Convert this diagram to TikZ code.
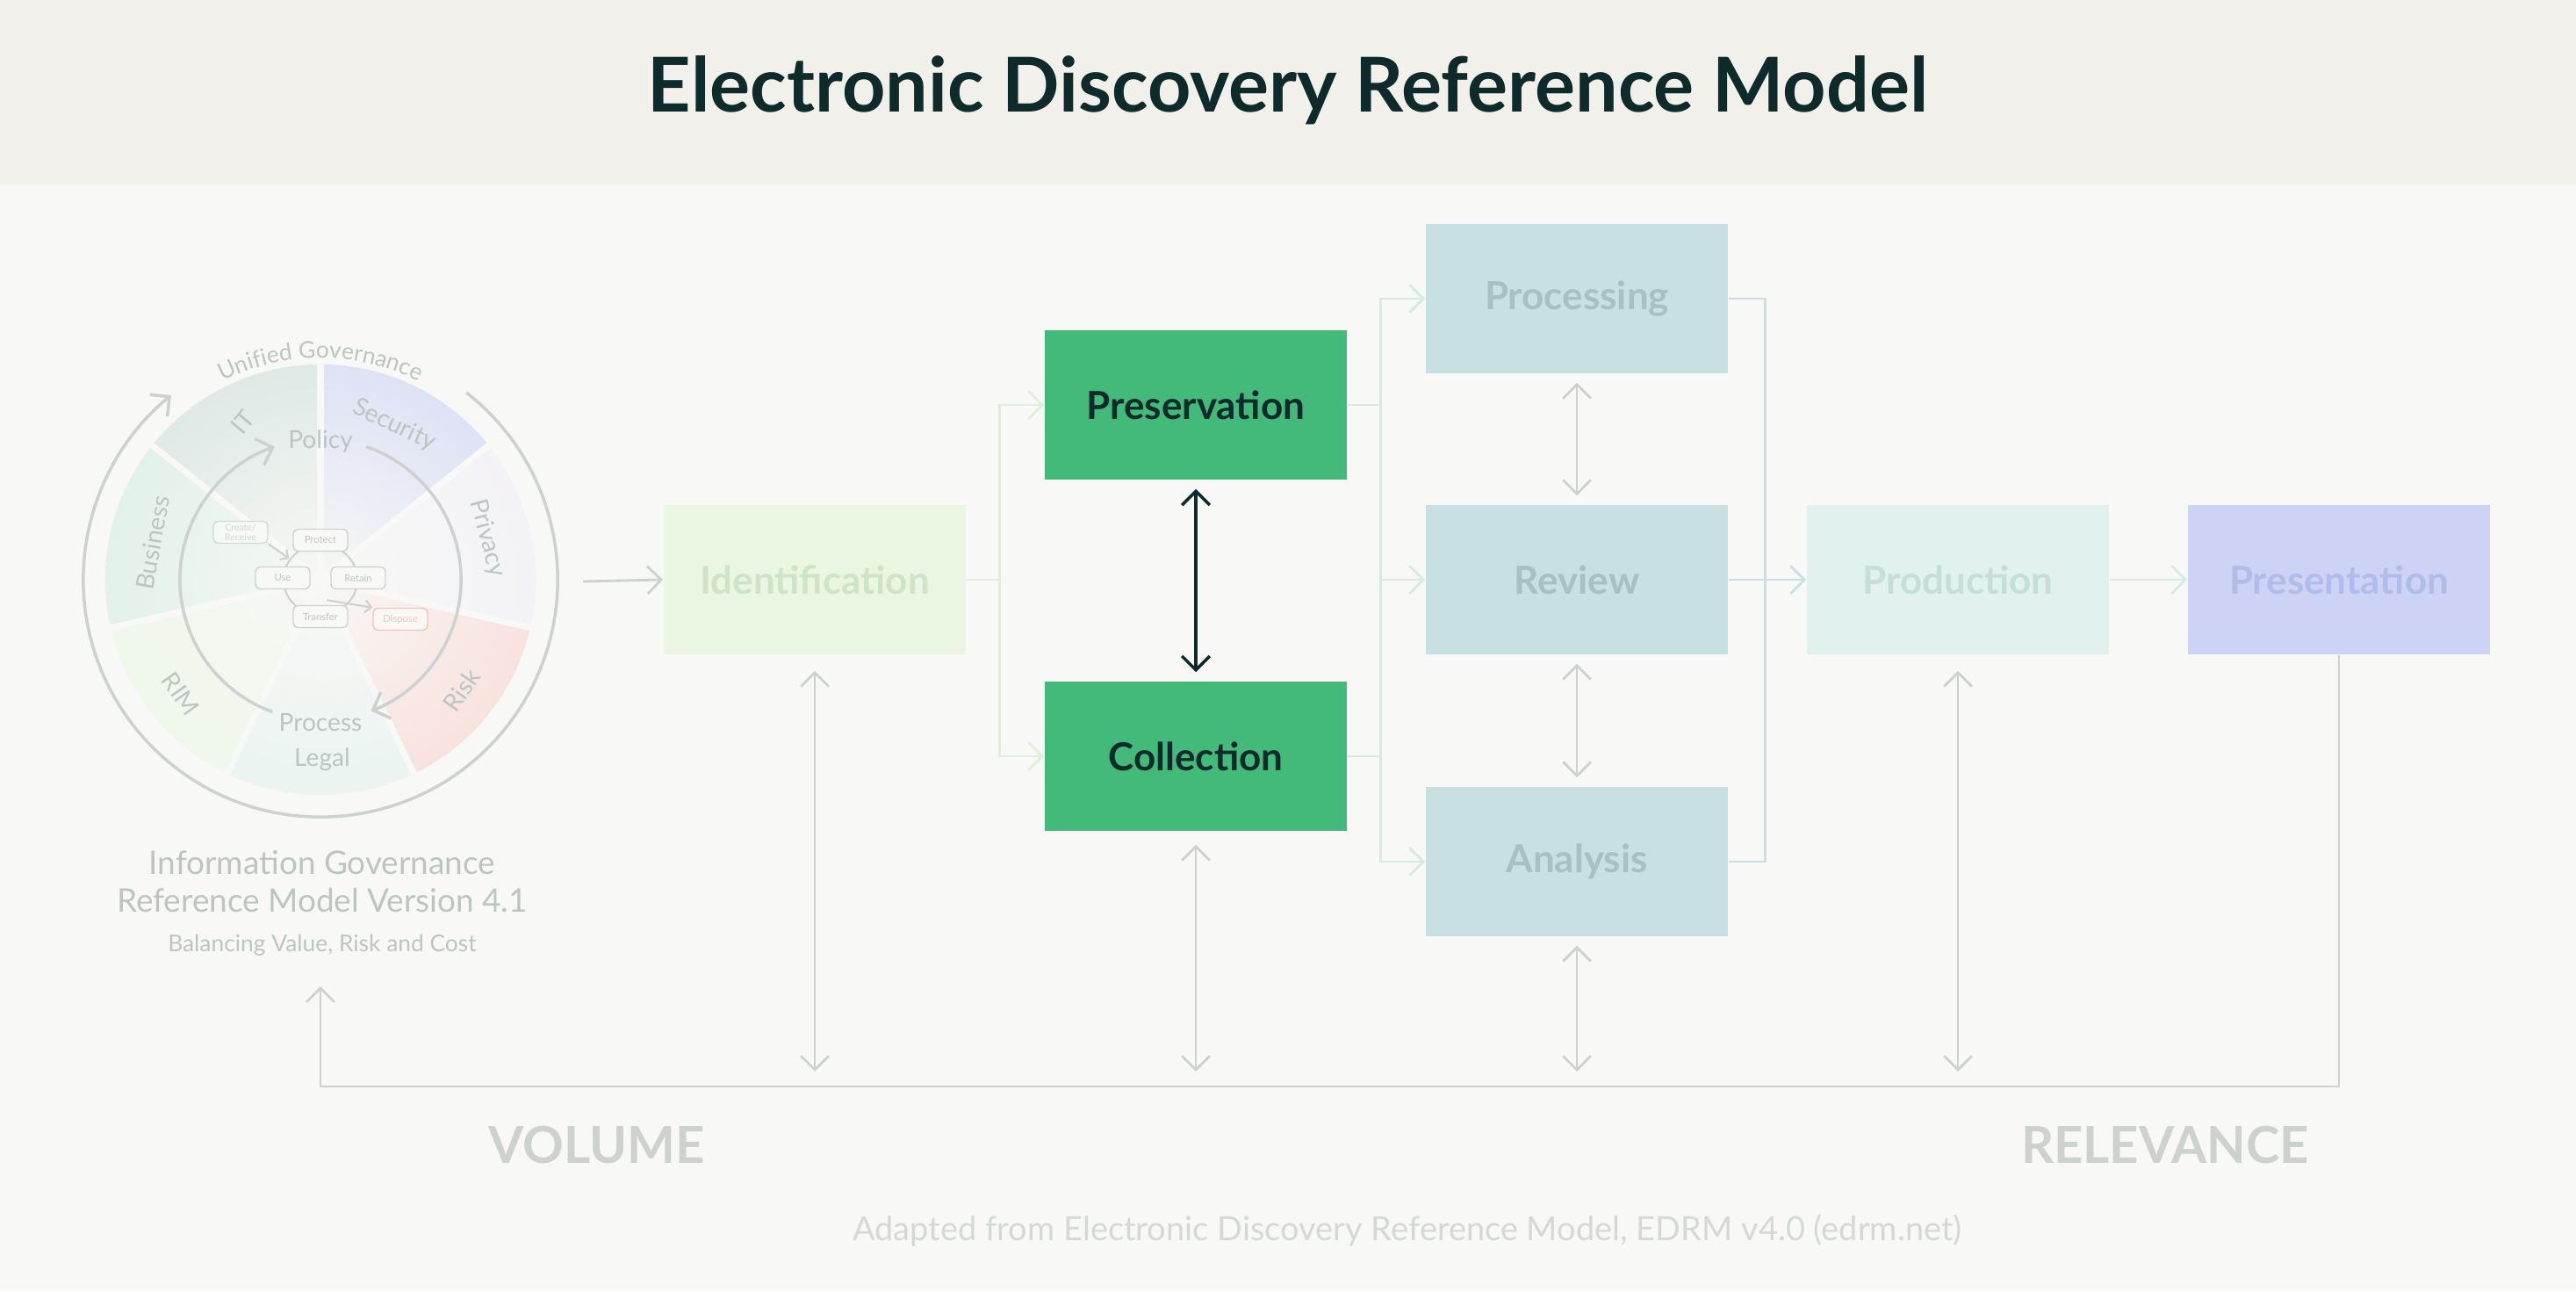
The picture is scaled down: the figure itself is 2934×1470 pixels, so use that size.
\documentclass[tikz,border=0pt]{standalone}
\usepackage{fontspec}
\setmainfont{Lato}
\usetikzlibrary{arrows.meta,decorations.text,fadings,calc}
\definecolor{bgc}{HTML}{F8F8F6}
\definecolor{hdr}{HTML}{F1F0EB}
\definecolor{ttl}{HTML}{0E2A2A}
\definecolor{gline}{HTML}{CDD2D0}
\definecolor{gtxt}{HTML}{BCC5C2}
\definecolor{idf}{HTML}{EAF5E2}
\definecolor{idt}{HTML}{CFE3C9}
\definecolor{grn}{HTML}{43B97A}
\definecolor{blu}{HTML}{C8E0E1}
\definecolor{blt}{HTML}{A9C0C2}
\definecolor{prf}{HTML}{E1F2EE}
\definecolor{prt}{HTML}{C6DED8}
\definecolor{psf}{HTML}{CCD3F4}
\definecolor{pst}{HTML}{B2BCE8}
\definecolor{lg1}{HTML}{DDF0D8}
\definecolor{lg2}{HTML}{D3ECE2}
\definecolor{lg3}{HTML}{C8E0E1}
\definecolor{wIT}{HTML}{D0E0DC}
\definecolor{wSec}{HTML}{CDD5F5}
\definecolor{wPri}{HTML}{F1EFF6}
\definecolor{wRisk}{HTML}{F8D5CF}
\definecolor{wLeg}{HTML}{E3F2EF}
\definecolor{wRIM}{HTML}{EBF7E4}
\definecolor{wBus}{HTML}{D4EEE3}
\definecolor{dsp}{HTML}{F3C3BC}
\definecolor{crc}{HTML}{C8DDD8}
\tikzfading[name=fadeout, inner color=transparent!0, outer color=transparent!100]
\tikzset{
  box/.style={minimum width=3.44cm, minimum height=1.70cm, inner sep=0pt,
    font=\fontsize{12.5}{14}\selectfont\bfseries},
  tipb/.style={-{Straight Barb[length=4.5pt,width=9pt]}},
  dtip/.style={{Straight Barb[length=4.5pt,width=9pt]}-{Straight Barb[length=4.5pt,width=9pt]}},
  gl/.style={draw=gline, line width=0.8pt},
  wlab/.style={text=gtxt, font=\fontsize{8}{9}\selectfont},
  lc/.style={draw=gline, rounded corners=1.5pt, line width=0.4pt, minimum width=0.62cm, minimum height=0.25cm, inner sep=0.5pt, font=\fontsize{3.2}{3.6}\selectfont, text=gtxt, fill=bgc}
}
\begin{document}
\begin{tikzpicture}[x=0.01cm,y=0.01cm]
\useasboundingbox (0,0) rectangle (2934,-1470);
\fill[bgc] (0,0) rectangle (2934,-1470);
\fill[hdr] (0,0) rectangle (2934,-210);
\node[text=ttl, font=\fontsize{24.5}{28}\selectfont\bfseries] (title) at (1467,-103) {Electronic Discovery Reference Model};

% ---------- IG model ----------
\coordinate (C) at (365,-660);
\foreach \a/\b/\c in {90/141.4/wIT,141.4/192.9/wBus,192.9/244.3/wRIM,244.3/295.7/wLeg,295.7/347.1/wRisk,347.1/398.6/wPri,38.6/90/wSec}{
  \fill[\c] (C) -- ([shift={(\a:2.45cm)}]C) arc[start angle=\a, end angle=\b, radius=2.45cm] -- cycle;
}
\fill[bgc, path fading=fadeout] (C) circle (4.0cm);
\foreach \a in {90,141.4,192.9,244.3,295.7,347.1,38.6}{
  \draw[bgc, line width=2pt] (C) -- ([shift={(\a:2.5cm)}]C);
}
% outer arc
\draw[gl, line width=1pt, tipb] ([shift={(52:2.7cm)}]C) arc[start angle=52, end angle=-231, radius=2.7cm];
\path[decorate, decoration={text along path, text={|\fontsize{7.5}{8}\selectfont|Unified Governance}, text color=gtxt, text align=center}]
  ([shift={(122:2.52cm)}]C) arc[start angle=122, end angle=58, radius=2.52cm];
% inner arcs
\draw[gl, line width=1pt, tipb] ([shift={(250:1.6cm)}]C) arc[start angle=250, end angle=109, radius=1.6cm];
\draw[gl, line width=1pt, tipb] ([shift={(71:1.6cm)}]C) arc[start angle=71, end angle=-69, radius=1.6cm];
% labels
\node[wlab, rotate=50] (lIT) at (277,-481) {IT};
\node[wlab] (lPol) at (365,-503) {Policy};
\node[wlab, rotate=-25] (lSec) at (449,-484) {Security};
\node[wlab, rotate=-75] (lPri) at (555,-613) {Privacy};
\node[wlab, rotate=55] (lRisk) at (526,-786) {Risk};
\node[wlab] (lPro) at (365,-823) {Process};
\node[wlab] (lLeg) at (367,-865) {Legal};
\node[wlab, rotate=-55] (lRIM) at (206,-790) {RIM};
\node[wlab, rotate=80] (lBus) at (174,-618) {Business};
% lifecycle
\draw[gline, line width=0.6pt] (C) ellipse (0.42cm and 0.4cm);
\node[lc, draw=crc, text=crc, align=center, font=\fontsize{3}{3.3}\selectfont] (cr) at (274,-606) {Create/\\Receive};
\node[lc] (prot) at (365,-615) {Protect};
\node[lc] (use) at (322,-658) {Use};
\node[lc] (ret) at (408,-658) {Retain};
\node[lc] (trf) at (365,-702) {Transfer};
\node[lc, draw=dsp, text=dsp] (dis) at (456,-705) {Dispose};
\draw[gline, line width=0.6pt, -{Straight Barb[length=2pt,width=4pt]}] (cr.south east) -- ($(prot.south west)+(-4,-8)$);
\draw[gline, line width=0.6pt, -{Straight Barb[length=2pt,width=4pt]}] ($(ret.south west)+(-4,-12)$) -- (dis.north west);
\node[text=gtxt, font=\fontsize{10.5}{12}\selectfont] (cap1) at (367,-982) {Information Governance};
\node[text=gtxt, font=\fontsize{10.5}{12}\selectfont] (cap2) at (367,-1025) {Reference Model Version 4.1};
\node[text=gtxt, font=\fontsize{7.5}{9}\selectfont] (cap3) at (367,-1076) {Balancing Value, Risk and Cost};

% ---------- EDRM boxes ----------
\node[box, fill=idf, text=idt] (ident) at (928,-660) {Identification};
\node[box, fill=grn, text=ttl] (pres) at (1362,-461) {Preservation};
\node[box, fill=grn, text=ttl] (coll) at (1362,-861) {Collection};
\node[box, fill=blu, text=blt] (proc) at (1796,-340) {Processing};
\node[box, fill=blu, text=blt] (rev) at (1796,-660) {Review};
\node[box, fill=blu, text=blt] (ana) at (1796,-981) {Analysis};
\node[box, fill=prf, text=prt] (prod) at (2230,-660) {Production};
\node[box, fill=psf, text=pst] (presn) at (2664,-660) {Presentation};

\coordinate (cin) at (664,-662);
\draw[gl, tipb] (cin) -- (ident.west);
\draw[draw=lg1, line width=0.8pt, tipb] (ident.east) -- ++(38,0) |- (pres.west);
\draw[draw=lg1, line width=0.8pt, tipb] (ident.east) -- ++(38,0) |- (coll.west);
\draw[draw=lg2, line width=0.8pt, tipb] (pres.east) -- ++(38,0) |- (proc.west);
\draw[draw=lg2, line width=0.8pt, tipb] (coll.east) -- ++(38,0) |- (ana.west);
\draw[draw=lg2, line width=0.8pt] (pres.east) -- ++(38,0) -- ++(0,-400);
\coordinate (j2) at (1572,-660);
\draw[draw=lg2, line width=0.8pt, tipb] (j2) -- (rev.west);
\draw[draw=lg3, line width=0.8pt] (proc.east) -- ++(42,0) |- (ana.east);
\draw[draw=lg3, line width=0.8pt, tipb] (rev.east) -- (prod.west);
\draw[draw=lg2, line width=0.8pt, tipb] (prod.east) -- (presn.west);

\draw[draw=ttl, line width=1pt, dtip] ([yshift=-0.1cm]pres.south) -- ([yshift=0.1cm]coll.north);
\draw[gl, dtip] ([yshift=-0.1cm]proc.south) -- ([yshift=0.1cm]rev.north);
\draw[gl, dtip] ([yshift=-0.1cm]rev.south) -- ([yshift=0.1cm]ana.north);

% bottom
\coordinate (bl) at (365,-1237);
\coordinate (igc) at (365,-1123);
\draw[gl, tipb] (presn.south) |- (bl) -- (igc);
\coordinate (e1) at (928,-1220);
\coordinate (e2) at (1362,-1220);
\coordinate (e3) at (1796,-1220);
\coordinate (e4) at (2230,-1220);
\draw[gl, dtip] ([yshift=-0.18cm]ident.south) -- (e1);
\draw[gl, dtip] ([yshift=-0.15cm]coll.south) -- (e2);
\draw[gl, dtip] ([yshift=-0.1cm]ana.south) -- (e3);
\draw[gl, dtip] ([yshift=-0.18cm]prod.south) -- (e4);

\node[text=gline, font=\fontsize{16.5}{18}\selectfont\bfseries] (vol) at (680,-1304) {VOLUME};
\node[text=gline, font=\fontsize{16.5}{18}\selectfont\bfseries] (relv) at (2466,-1304) {RELEVANCE};
\node[text=gline!85, font=\fontsize{10.8}{12}\selectfont] (foot) at (1603,-1401) {Adapted from Electronic Discovery Reference Model, EDRM v4.0 (edrm.net)};
\end{tikzpicture}
\end{document}
